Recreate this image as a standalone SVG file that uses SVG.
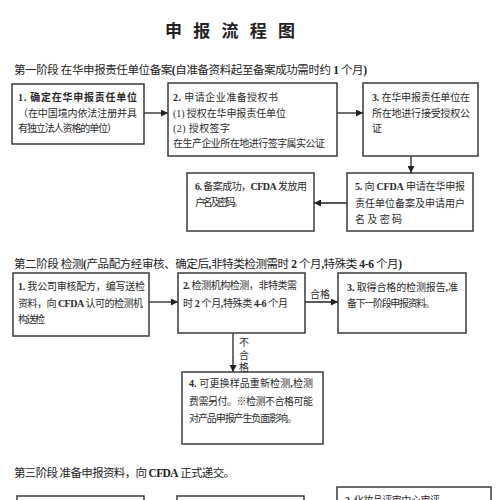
<svg xmlns="http://www.w3.org/2000/svg" width="500" height="500" viewBox="0 0 500 500">
<defs>
<marker id="ah" viewBox="0 0 10 10" refX="10" refY="5" markerWidth="7" markerHeight="7" markerUnits="userSpaceOnUse" orient="auto"><path d="M0,0 L10,5 L0,10 z" fill="#222"/></marker>
<style>
.t{font-family:"Liberation Serif","Noto Sans CJK SC",serif;fill:#2a2a2a;font-size:10px}
.h{font-family:"Liberation Serif","Noto Sans CJK SC",serif;fill:#222;font-size:11.5px}
.b{font-weight:bold}
.box{fill:#fff;stroke:#3a3a3a;stroke-width:1.5}
.c{stroke:#222;stroke-width:1.3;fill:none;marker-end:url(#ah)}
</style>
</defs>
<rect width="500" height="500" fill="#fff"/>
<text x="230" y="37" text-anchor="middle" class="h" style="font-size:17px" font-weight="bold" textLength="130" lengthAdjust="spacing">申 报 流 程 图</text>
<text x="14" y="74" class="h" textLength="353" lengthAdjust="spacing">第一阶段 在华申报责任单位备案<tspan class="b">(</tspan>自准备资料起至备案成功需时约 <tspan class="b">1</tspan> 个月<tspan class="b">)</tspan></text>
<text x="14" y="268" class="h" textLength="388" lengthAdjust="spacing">第二阶段 检测<tspan class="b">(</tspan>产品配方经审核、确定后<tspan class="b">,</tspan>非特类检测需时 <tspan class="b">2</tspan> 个月<tspan class="b">,</tspan>特殊类 <tspan class="b">4-6</tspan> 个月<tspan class="b">)</tspan></text>
<text x="14" y="477" class="h" textLength="221" lengthAdjust="spacing">第三阶段 准备申报资料，向 <tspan class="b">CFDA</tspan> 正式递交。</text>

<g id="connectors">
<line class="c" x1="144" y1="113" x2="168" y2="113"/>
<line class="c" x1="337" y1="113" x2="363" y2="113"/>
<line class="c" x1="411" y1="156" x2="411" y2="173"/>
<line class="c" x1="347" y1="203" x2="314" y2="203"/>
<line class="c" x1="149" y1="302" x2="178" y2="302"/>
<line class="c" x1="305" y1="302" x2="338" y2="302"/>
<line class="c" x1="233" y1="333" x2="233" y2="372"/>
<text x="320" y="298" class="t" text-anchor="middle">合格</text>
<text x="244" y="346" class="t" text-anchor="middle">不</text>
<text x="244" y="359" class="t" text-anchor="middle">合</text>
<text x="244" y="371" class="t" text-anchor="middle">格</text>
</g>

<g id="s1n1">
<rect class="box" x="12" y="84" width="132" height="60"/>
<text x="18" y="101" class="t b" textLength="119" lengthAdjust="spacing">1. 确定在华申报责任单位</text>
<text x="18" y="117" class="t" textLength="119" lengthAdjust="spacing">（在中国境内依法注册并具</text>
<text x="18" y="132" class="t" textLength="99" lengthAdjust="spacing">有独立法人资格的单位）</text>
</g>
<g id="s1n2">
<rect class="box" x="168" y="83" width="169" height="73"/>
<text x="173" y="101" class="t" textLength="105" lengthAdjust="spacing"><tspan class="b">2.</tspan> 申请企业准备授权书</text>
<text x="173" y="117" class="t" textLength="113" lengthAdjust="spacing">(1) 授权在华申报责任单位</text>
<text x="173" y="132" class="t" textLength="57" lengthAdjust="spacing">(2) 授权签字</text>
<text x="173" y="147" class="t" textLength="152" lengthAdjust="spacing">在生产企业所在地进行签字属实公证</text>
</g>
<g id="s1n3">
<rect class="box" x="363" y="83" width="115" height="73"/>
<text x="372" y="101" class="t" textLength="98" lengthAdjust="spacing"><tspan class="b">3.</tspan> 在华申报责任单位在</text>
<text x="372" y="117" class="t" textLength="98" lengthAdjust="spacing">所在地进行接受授权公</text>
<text x="372" y="132" class="t">证</text>
</g>
<g id="s1n5">
<rect class="box" x="347" y="173" width="126" height="58"/>
<text x="355" y="190" class="t" textLength="110" lengthAdjust="spacing"><tspan class="b">5.</tspan> 向 <tspan class="b">CFDA</tspan> 申请在华申报</text>
<text x="355" y="207" class="t" textLength="110" lengthAdjust="spacing">责任单位备案及申请用户</text>
<text x="355" y="223" class="t" textLength="47" lengthAdjust="spacing">名及密码</text>
</g>
<g id="s1n6">
<rect class="box" x="187" y="173" width="127" height="58"/>
<text x="195" y="190" class="t" textLength="112" lengthAdjust="spacing"><tspan class="b">6.</tspan> 备案成功，<tspan class="b">CFDA</tspan> 发放用</text>
<text x="195" y="206" class="t" textLength="48" lengthAdjust="spacing">户名及密码。</text>
</g>

<g id="s2n1">
<rect class="box" x="13" y="273" width="136" height="63"/>
<text x="18" y="290" class="t" textLength="127" lengthAdjust="spacing"><tspan class="b">1.</tspan> 我公司审核配方，编写送检</text>
<text x="18" y="307" class="t" textLength="125" lengthAdjust="spacing">资料，向 <tspan class="b">CFDA</tspan> 认可的检测机</text>
<text x="18" y="323" class="t" textLength="27" lengthAdjust="spacing">构送检</text>
</g>
<g id="s2n2">
<rect class="box" x="178" y="273" width="127" height="60"/>
<text x="183" y="289" class="t" textLength="114" lengthAdjust="spacing"><tspan class="b">2.</tspan> 检测机构检测，非特类需</text>
<text x="183" y="307" class="t" textLength="105" lengthAdjust="spacing">时 <tspan class="b">2</tspan> 个月<tspan class="b">,</tspan>特殊类 <tspan class="b">4-6</tspan> 个月</text>
</g>
<g id="s2n3">
<rect class="box" x="338" y="273" width="128" height="60"/>
<text x="347" y="291" class="t" textLength="111" lengthAdjust="spacing"><tspan class="b">3.</tspan> 取得合格的检测报告<tspan class="b">,</tspan>准</text>
<text x="347" y="307" class="t" textLength="88" lengthAdjust="spacing">备下一阶段申报资料。</text>
</g>
<g id="s2n4">
<rect class="box" x="182" y="372" width="141" height="72"/>
<text x="189" y="387" class="t" textLength="124" lengthAdjust="spacing"><tspan class="b">4.</tspan> 可更换样品重新检测<tspan class="b">,</tspan>检测</text>
<text x="189" y="405" class="t" textLength="124" lengthAdjust="spacing">费需另付。※检测不合格可能</text>
<text x="189" y="422" class="t" textLength="108" lengthAdjust="spacing">对产品申报产生负面影响。</text>
</g>

<g id="s3n1"><rect class="box" x="17" y="496" width="127" height="20"/></g>
<g id="s3n2"><rect class="box" x="177" y="496" width="127" height="20"/></g>
<g id="s3n3">
<rect class="box" x="337" y="487" width="154" height="30"/>
<text x="345" y="504" class="t" textLength="95" lengthAdjust="spacing"><tspan class="b">3.</tspan> 化妆品评审中心审评</text>
</g>
</svg>
